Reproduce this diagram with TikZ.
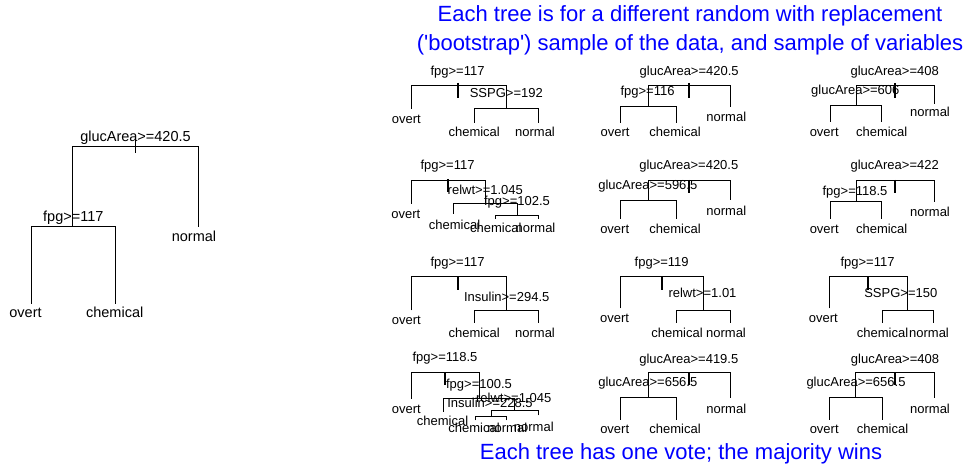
\documentclass[tikz,border=0pt]{standalone}
\usepackage{fontspec}
\setmainfont{Liberation Sans}[Ligatures=TeXOff]
\definecolor{rblue}{RGB}{0,0,255}
\tikzset{
  br/.style={line width=0.9pt, black, line cap=rect},
  tk/.style={line width=2.2pt, black},
  tkthin/.style={line width=0.9pt, black},
  lab/.style={inner sep=0pt, text height=0.72em, text depth=0.21em, font=\fontsize{13}{13}\selectfont},
  biglab/.style={lab, font=\fontsize{14.5}{14.5}\selectfont},
  ttl/.style={inner sep=0pt, text height=0.72em, text depth=0.21em, text=rblue, font=\fontsize{22}{22}\selectfont}
}
\newcommand\tbar[5]{\draw[br] (#1,#2) -- (#1,#5) -- (#3,#5) -- (#3,#4);}
\newcommand\ttick[3]{\draw[tk] (#1,#2) -- (#1,#3);}
\begin{document}
\begin{tikzpicture}[x=1pt,y=-1pt]
\useasboundingbox (0,0) rectangle (965,470);
% titles
\node[ttl] (t1) at (690,19) {Each tree is for a different random with replacement};
\node[ttl] (t2) at (690,48) {('bootstrap') sample of the data, and sample of variables};
\node[ttl] (t3) at (681,457) {Each tree has one vote; the majority wins};
% ---------- big tree ----------
\tbar{72.7}{226.7}{198}{226.7}{146.7}
\draw[tkthin] (135,139) -- (135,153);
\tbar{31.7}{303.3}{115}{303.3}{226.7}
\node[biglab] (b0) at (135.5,138.7) {glucArea>=420.5};
\node[biglab] (b1) at (73.3,218.7) {fpg>=117};
\node[biglab] (b2) at (194,238.7) {normal};
\node[biglab] (b3) at (25.5,315.3) {overt};
\node[biglab] (b4) at (114.7,315.3) {chemical};
% ---------- tree A ----------
\tbar{411.7}{108.3}{506}{108.3}{85}
\ttick{458.3}{83}{98}
\tbar{474.3}{122.3}{538.3}{122.3}{108.3}
\node[lab] (a0) at (457.5,72.7) {fpg>=117};
\node[lab] (a1) at (406.3,120.7) {overt};
\node[lab] (a2) at (506.3,95) {SSPG>=192};
\node[lab] (a3) at (474.2,134) {chemical};
\node[lab] (a4) at (535,134) {normal};
% ---------- tree B ----------
\tbar{648.3}{106.7}{730}{106.7}{85}
\ttick{689.3}{83}{98}
\tbar{620.7}{122.7}{676}{122.7}{106.7}
\node[lab] (bb0) at (689.2,72.7) {glucArea>=420.5};
\node[lab] (bb1) at (647.5,93.3) {fpg>=116};
\node[lab] (bb2) at (615,134) {overt};
\node[lab] (bb3) at (675,134) {chemical};
\node[lab] (bb4) at (726.3,119.3) {normal};
% ---------- tree C ----------
\tbar{856}{105}{934}{103.3}{85}
\ttick{895}{83}{98}
\tbar{830}{121.7}{881.7}{121.7}{105}
\node[lab] (c0) at (894.7,72.7) {glucArea>=408};
\node[lab] (c1) at (855.3,92.3) {glucArea>=606};
\node[lab] (c2) at (824.2,134) {overt};
\node[lab] (c3) at (881.7,134) {chemical};
\node[lab] (c4) at (930,114.3) {normal};
% ---------- tree D ----------
\tbar{411.7}{203.3}{485}{203.3}{180.7}
\ttick{448.3}{179}{192}
\tbar{453.3}{214}{517.7}{215}{203.3}
\tbar{495.7}{218.3}{538.3}{218.3}{215}
\node[lab] (d0) at (447.5,167.3) {fpg>=117};
\node[lab] (d1) at (405.8,216) {overt};
\node[lab] (d2) at (485.3,191.7) {relwt>=1.045};
\node[lab] (d3) at (454.5,227.3) {chemical};
\node[lab] (d4) at (517,202.7) {fpg>=102.5};
\node[lab] (d5) at (495.8,230) {chemical};
\node[lab] (d6) at (535.5,230) {normal};
% ---------- tree E ----------
\tbar{648.3}{200}{730}{200}{180.7}
\ttick{689.3}{180}{193.3}
\tbar{620.7}{218.3}{676}{218.3}{200}
\node[lab] (e0) at (688.8,167.3) {glucArea>=420.5};
\node[lab] (e1) at (647.8,187.3) {glucArea>=596.5};
\node[lab] (e2) at (614.7,230.7) {overt};
\node[lab] (e3) at (675,230.7) {chemical};
\node[lab] (e4) at (726.3,212.7) {normal};
% ---------- tree F ----------
\tbar{856}{201.7}{934}{201.7}{180.7}
\ttick{895}{180}{193.3}
\tbar{830}{218.3}{881.7}{218.3}{201.7}
\node[lab] (f0) at (894.7,167.3) {glucArea>=422};
\node[lab] (f1) at (855,193.3) {fpg>=118.5};
\node[lab] (f2) at (824.2,230.7) {overt};
\node[lab] (f3) at (881.7,230.7) {chemical};
\node[lab] (f4) at (930,214) {normal};
% ---------- tree G ----------
\tbar{411.7}{310}{506}{310}{276.7}
\ttick{458.3}{276}{290}
\tbar{474.3}{322.7}{538.3}{322.7}{310}
\node[lab] (g0) at (457.5,264) {fpg>=117};
\node[lab] (g1) at (406.3,321.7) {overt};
\node[lab] (g2) at (506.7,299.3) {Insulin>=294.5};
\node[lab] (g3) at (474.2,335) {chemical};
\node[lab] (g4) at (535,335) {normal};
% ---------- tree H ----------
\tbar{620.7}{308}{703.3}{310}{276.7}
\ttick{661.7}{276}{290}
\tbar{676}{322.7}{730}{322.7}{310}
\node[lab] (h0) at (661.7,264) {fpg>=119};
\node[lab] (h1) at (614.5,319.7) {overt};
\node[lab] (h2) at (702.5,295) {relwt>=1.01};
\node[lab] (h3) at (677,335) {chemical};
\node[lab] (h4) at (726,335) {normal};
% ---------- tree I ----------
\tbar{829.3}{308}{907.3}{310}{276.7}
\ttick{868.3}{276}{290}
\tbar{882.7}{322.7}{933.3}{322.7}{310}
\node[lab] (i0) at (867.5,264) {fpg>=117};
\node[lab] (i1) at (823.3,319.7) {overt};
\node[lab] (i2) at (900.8,295) {SSPG>=150};
\node[lab] (i3) at (882.5,335) {chemical};
\node[lab] (i4) at (929,335) {normal};
% ---------- tree J ----------
\tbar{411.7}{398.3}{479}{398.3}{372.3}
\ttick{445}{372}{385}
\tbar{443.3}{411.7}{514.3}{410.7}{398.3}
\tbar{491}{416.7}{538.3}{415}{410.7}
\tbar{475}{420}{506.7}{420}{416.7}
\node[lab] (j0) at (445,359.3) {fpg>=118.5};
\node[lab] (j1) at (406.3,410.7) {overt};
\node[lab] (j2) at (479,386) {fpg>=100.5};
\node[lab] (j3) at (442.5,422.7) {chemical};
\node[lab] (j4) at (513.7,400) {relwt>=1.045};
\node[lab] (j5) at (490,405) {Insulin>=228.5};
\node[lab] (j6) at (474,430) {chemical};
\node[lab] (j7) at (507.3,430) {normal};
\node[lab] (j8) at (533.8,429) {normal};
% ---------- tree K ----------
\tbar{648.3}{397.3}{730}{397.3}{372.3}
\ttick{689.3}{372}{385}
\tbar{620.7}{419.3}{676}{419.3}{397.3}
\node[lab] (k0) at (688.8,360.7) {glucArea>=419.5};
\node[lab] (k1) at (647.8,384.3) {glucArea>=656.5};
\node[lab] (k2) at (614.7,430.7) {overt};
\node[lab] (k3) at (675,430.7) {chemical};
\node[lab] (k4) at (726.3,410.7) {normal};
% ---------- tree L ----------
\tbar{855.7}{397.3}{934}{397.3}{372.3}
\ttick{895}{372}{385}
\tbar{829.3}{419.3}{882.7}{419.3}{397.3}
\node[lab] (l0) at (895,360.7) {glucArea>=408};
\node[lab] (l1) at (856,384.3) {glucArea>=656.5};
\node[lab] (l2) at (824.2,430.7) {overt};
\node[lab] (l3) at (882.5,430.7) {chemical};
\node[lab] (l4) at (930,410.7) {normal};
\end{tikzpicture}
\end{document}
